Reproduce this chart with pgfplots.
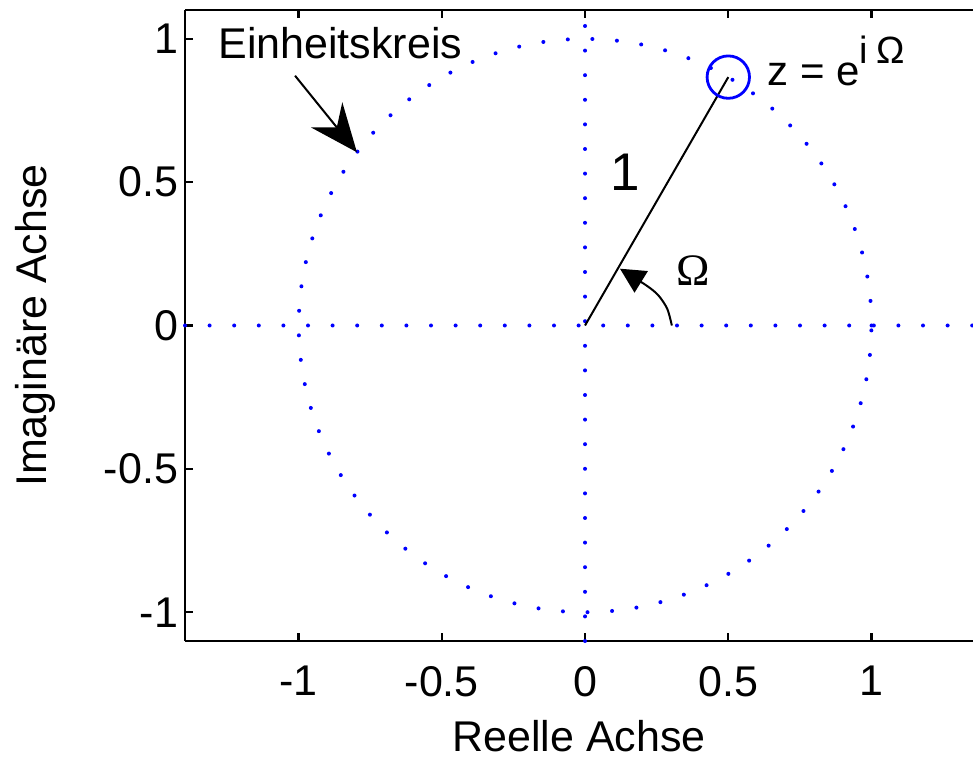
\documentclass[border=0pt]{standalone}
\usepackage{pgfplots}
\pgfplotsset{compat=1.18}
\usepackage{fontspec}
\setmainfont{Liberation Sans}
\newfontfamily\timesfont{Liberation Serif}
\usetikzlibrary{arrows.meta}
\definecolor{mblue}{RGB}{0,0,255}
\begin{document}
\begin{tikzpicture}
\path[use as bounding box] (-92.5pt,-59pt) rectangle (394pt,320.5pt);
\begin{axis}[
  at={(0,0)}, anchor=south west,
  scale only axis, width=394pt, height=315.5pt,
  xmin=-1.396, xmax=1.354, ymin=-1.1, ymax=1.1,
  axis y line*=left,
  axis line style={line width=1.1pt, black},
  xtick={-1,-0.5,0,0.5,1}, ytick={-1,-0.5,0,0.5,1},
  tick align=inside, major tick length=4pt,
  tick style={line width=1.1pt, black},
  ticklabel style={font=\fontsize{21.5}{25}\selectfont},
  xticklabel style={yshift=-9pt},
  /pgf/number format/assume math mode=true,
  xlabel={Reelle Achse}, ylabel={Imaginäre Achse},
  xlabel style={at={(axis description cs:0.5,0)}, anchor=center, yshift=-47.5pt, font=\fontsize{21.5}{25}\selectfont},
  ylabel style={at={(axis description cs:0,0.5)}, anchor=center, yshift=75pt, font=\fontsize{21.5}{25}\selectfont},
  clip=false,
]
\addplot[mblue, line width=2pt, line cap=round, dash pattern=on 0pt off 12.3pt] coordinates {
(1,0) (0.9962,0.0872) (0.9848,0.1736) (0.9659,0.2588) (0.9397,0.3420) (0.9063,0.4226)
(0.8660,0.5) (0.8192,0.5736) (0.7660,0.6428) (0.7071,0.7071) (0.6428,0.7660) (0.5736,0.8192)
(0.5,0.8660) (0.4226,0.9063) (0.3420,0.9397) (0.2588,0.9659) (0.1736,0.9848) (0.0872,0.9962)
(0,1) (-0.0872,0.9962) (-0.1736,0.9848) (-0.2588,0.9659) (-0.3420,0.9397) (-0.4226,0.9063)
(-0.5,0.8660) (-0.5736,0.8192) (-0.6428,0.7660) (-0.7071,0.7071) (-0.7660,0.6428) (-0.8192,0.5736)
(-0.8660,0.5) (-0.9063,0.4226) (-0.9397,0.3420) (-0.9659,0.2588) (-0.9848,0.1736) (-0.9962,0.0872)
(-1,0) (-0.9962,-0.0872) (-0.9848,-0.1736) (-0.9659,-0.2588) (-0.9397,-0.3420) (-0.9063,-0.4226)
(-0.8660,-0.5) (-0.8192,-0.5736) (-0.7660,-0.6428) (-0.7071,-0.7071) (-0.6428,-0.7660) (-0.5736,-0.8192)
(-0.5,-0.8660) (-0.4226,-0.9063) (-0.3420,-0.9397) (-0.2588,-0.9659) (-0.1736,-0.9848) (-0.0872,-0.9962)
(0,-1) (0.0872,-0.9962) (0.1736,-0.9848) (0.2588,-0.9659) (0.3420,-0.9397) (0.4226,-0.9063)
(0.5,-0.8660) (0.5736,-0.8192) (0.6428,-0.7660) (0.7071,-0.7071) (0.7660,-0.6428) (0.8192,-0.5736)
(0.8660,-0.5) (0.9063,-0.4226) (0.9397,-0.3420) (0.9659,-0.2588) (0.9848,-0.1736) (0.9962,-0.0872)
(1,0)};
\addplot[mblue, line width=2pt, line cap=round, dash pattern=on 0pt off 12.3pt] coordinates {(-1.396,0) (1.354,0)};
\addplot[mblue, line width=2pt, line cap=round, dash pattern=on 0pt off 12.3pt] coordinates {(0,-1.1) (0,1.1)};
\addplot[black, line width=1pt] coordinates {(0,0) (0.5,0.866)};
\addplot[mblue, only marks, mark=o, mark size=10.6pt, mark options={line width=1.4pt}] coordinates {(0.5,0.866)};
\addplot[black, line width=1pt, smooth, -{Triangle[length=12.5pt,width=12.5pt]}] coordinates {(0.303,0.0) (0.287,0.058) (0.256,0.105) (0.215,0.139) (0.122,0.198)};
\addplot[black, line width=1pt, -{Stealth[length=24pt,width=20pt,inset=8pt]}] coordinates {(-1.012,0.871) (-0.796,0.604)};
\node[anchor=base west, inner sep=0pt, font=\fontsize{21.5}{25}\selectfont] at (axis cs:-1.281,0.930) {Einheitskreis};
\node[anchor=base west, inner sep=0pt, font=\fontsize{21}{25}\selectfont] at (axis cs:0.635,0.836) {z = e\raisebox{11pt}{\fontsize{19}{22}\selectfont i\hspace{4pt}Ω}};
\node[anchor=base west, inner sep=0pt, font=\fontsize{26.5}{30}\selectfont] at (axis cs:0.087,0.470) {1};
\node[anchor=base west, inner sep=0pt, font=\timesfont\fontsize{22.5}{26}\selectfont] at (axis cs:0.318,0.139) {Ω};
\end{axis}
\end{tikzpicture}
\end{document}
